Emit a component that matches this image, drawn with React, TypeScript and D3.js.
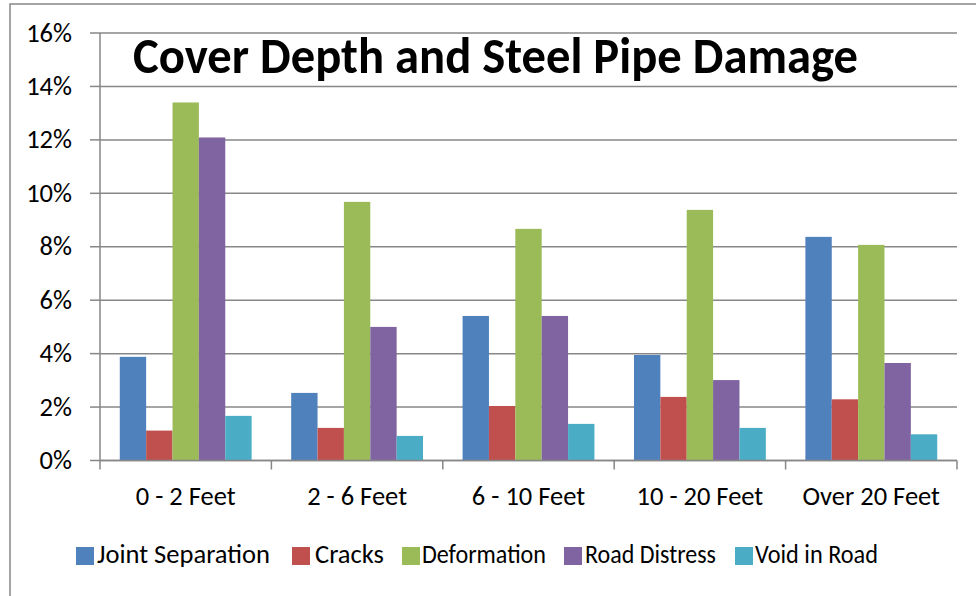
import React from "react";
import * as d3 from "d3";

const categories = ["0 - 2 Feet", "2 - 6 Feet", "6 - 10 Feet", "10 - 20 Feet", "Over 20 Feet"];
const seriesNames = ["Joint Separation", "Cracks", "Deformation", "Road Distress", "Void in Road"];
const jointSeparation = [3.88, 2.53, 5.41, 3.95, 8.37];
const cracks = [1.12, 1.22, 2.04, 2.38, 2.29];
const deformation = [13.4, 9.68, 8.67, 9.38, 8.07];
const roadDistress = [12.09, 5.0, 5.41, 3.01, 3.65];
const voidInRoad = [1.67, 0.92, 1.37, 1.22, 0.98];
const yTicks = [0, 2, 4, 6, 8, 10, 12, 14, 16];
const colors = ["#4F81BD", "#C0504D", "#9BBB59", "#8064A2", "#4BACC6"];
const title = "Cover Depth and Steel Pipe Damage";

const seriesValues = [jointSeparation, cracks, deformation, roadDistress, voidInRoad];

export default function App() {
  const W = 976, H = 596;
  const left = 100, right = 957, top = 33, bottom = 460.5;
  const font = "Carlito, Calibri, 'Liberation Sans', Arial, sans-serif";
  const y = d3.scaleLinear().domain([0, 16]).range([bottom, top]);
  const x0 = d3.scaleBand<string>().domain(categories).range([left, right]).paddingInner(0).paddingOuter(0);
  const barW = x0.bandwidth() / (5 + 1.5);
  const gray = "#878787";
  const fs = 26.5;

  const legendItems = [
    { sq: 76, tx: 97, len: 173 },
    { sq: 292, tx: 315, len: 69 },
    { sq: 402, tx: 422, len: 124 },
    { sq: 564, tx: 585, len: 131 },
    { sq: 735, tx: 755, len: 123 },
  ];

  return (
    <svg width={W} height={H} style={{ position: "absolute", left: 0, top: 0, background: "#fff" }}>
      <rect x={10} y={4} width={W} height={H} fill="#fff" stroke={gray} strokeWidth={1.5} />
      {yTicks.map((t) => (
        <g key={t}>
          <line x1={left} x2={right} y1={y(t)} y2={y(t)} stroke={gray} strokeWidth={1.5} />
          <line x1={90} x2={left} y1={y(t)} y2={y(t)} stroke={gray} strokeWidth={1.5} />
          <text x={72} y={y(t) + 8.5} textAnchor="end" fontFamily={font} fontSize={fs} fill="#000">
            {t}%
          </text>
        </g>
      ))}
      <line x1={left} x2={left} y1={top} y2={bottom} stroke={gray} strokeWidth={1.5} />
      {categories.map((c, ci) => (
        <g key={c}>
          {seriesValues.map((vals, si) => (
            <rect
              key={si}
              x={(x0(c) as number) + barW * 0.75 + si * barW}
              y={y(vals[ci])}
              width={barW}
              height={bottom - y(vals[ci])}
              fill={colors[si]}
            />
          ))}
        </g>
      ))}
      <line x1={left} x2={right} y1={bottom} y2={bottom} stroke={gray} strokeWidth={1.5} />
      {[...categories.map((c) => x0(c) as number), right].map((v, i) => (
        <line key={i} x1={v} x2={v} y1={bottom} y2={bottom + 9} stroke={gray} strokeWidth={1.5} />
      ))}
      {categories.map((c) => (
        <text
          key={c}
          x={(x0(c) as number) + x0.bandwidth() / 2}
          y={505}
          textAnchor="middle"
          fontFamily={font}
          fontSize={fs}
          fill="#000"
        >
          {c}
        </text>
      ))}
      <text x={133} y={73.3} fontFamily={font} fontWeight="bold" fontSize={50} fill="#000" textLength={725} lengthAdjust="spacingAndGlyphs">
        {title}
      </text>
      {seriesNames.map((n, i) => (
        <g key={n}>
          <rect x={legendItems[i].sq} y={547} width={18} height={18} fill={colors[i]} />
          <text x={legendItems[i].tx} y={563} fontFamily={font} fontSize={fs} fill="#000" textLength={legendItems[i].len} lengthAdjust="spacingAndGlyphs">
            {n}
          </text>
        </g>
      ))}
    </svg>
  );
}
